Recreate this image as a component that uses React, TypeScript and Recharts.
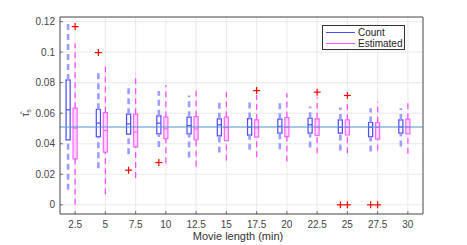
import { ComposedChart, XAxis, YAxis, CartesianGrid, ReferenceArea, ReferenceLine, ReferenceDot } from "recharts"

const lengths = [2.5, 5, 7.5, 10, 12.5, 15, 17.5, 20, 22.5, 25, 27.5, 30]
const xTicks = [2.5, 5, 7.5, 10, 12.5, 15, 17.5, 20, 22.5, 25, 27.5, 30]
const yTicks = [0, 0.02, 0.04, 0.06, 0.08, 0.1, 0.12]

// Count (blue)
const countLo = [0.0098, 0.024, 0.0332, 0.0378, 0.031, 0.0343, 0.036, 0.0364, 0.0375, 0.0356, 0.0349, 0.0382]
const countQ1 = [0.0426, 0.0447, 0.0463, 0.0465, 0.0465, 0.0452, 0.0456, 0.0469, 0.0469, 0.0469, 0.0447, 0.0469]
const countMed = [0.0622, 0.0535, 0.053, 0.0535, 0.0519, 0.0524, 0.0509, 0.0513, 0.0524, 0.0508, 0.0508, 0.051]
const countQ3 = [0.0818, 0.0626, 0.0594, 0.0583, 0.0574, 0.0563, 0.0565, 0.0561, 0.0567, 0.0556, 0.0539, 0.0556]
const countHi = [0.121, 0.0873, 0.0792, 0.0746, 0.0716, 0.0687, 0.0676, 0.067, 0.0644, 0.0637, 0.0633, 0.0633]
const countOutLen = [5, 7.5, 10, 25, 27.5]
const countOutVal = [0.0997, 0.0227, 0.0277, 0, 0]

// Estimated (magenta)
const estLo = [0, 0.007, 0.0175, 0.0273, 0.0251, 0.029, 0.0312, 0.0284, 0.0338, 0.0338, 0.0356, 0.0334]
const estQ1 = [0.0301, 0.0345, 0.038, 0.0434, 0.0425, 0.0421, 0.0443, 0.0447, 0.0454, 0.0458, 0.043, 0.0465]
const estMed = [0.0502, 0.0487, 0.0476, 0.0497, 0.0497, 0.0506, 0.0504, 0.0508, 0.0509, 0.0508, 0.0508, 0.051]
const estQ3 = [0.0633, 0.0604, 0.0594, 0.0574, 0.0578, 0.0574, 0.0556, 0.0572, 0.0563, 0.0556, 0.0539, 0.0561]
const estHi = [0.1058, 0.0906, 0.0858, 0.0783, 0.0759, 0.0738, 0.072, 0.0731, 0.0705, 0.0687, 0.0676, 0.0676]
const estOutLen = [2.5, 17.5, 22.5, 25, 25, 27.5]
const estOutVal = [0.1167, 0.0748, 0.0738, 0.0716, 0, 0]

const trueValue = 0.051

const X_MIN = 1.25
const X_MAX = 31.25
const Y_MIN = -0.006
const Y_MAX = 0.123
const COUNT_SHIFT = -0.58
const EST_SHIFT = 0
const HALF = 0.17

const FONT = "'Liberation Sans', Arial, sans-serif"
const AXIS = "#262626"

const Plus = (props: any) => {
  const { cx, cy } = props
  if (cx == null || cy == null) return null
  return (
    <g stroke="#ff0000" strokeWidth={1.2}>
      <line x1={cx - 3.5} y1={cy} x2={cx + 3.5} y2={cy} />
      <line x1={cx} y1={cy - 3.5} x2={cx} y2={cy + 3.5} />
    </g>
  )
}

const XTick = ({ x, y, payload }: any) => (
  <g>
    <line x1={x} y1={y} x2={x} y2={y - 3} stroke={AXIS} strokeWidth={0.6} />
    <text x={x} y={y + 14} textAnchor="middle" fontSize={10} fill="#444" fontFamily={FONT}>
      {String(payload.value)}
    </text>
  </g>
)

const YTick = ({ x, y, payload }: any) => (
  <g>
    <line x1={x} y1={y} x2={x + 3} y2={y} stroke={AXIS} strokeWidth={0.6} />
    <text x={x - 5} y={y + 3.5} textAnchor="end" fontSize={10} fill="#444" fontFamily={FONT}>
      {String(payload.value)}
    </text>
  </g>
)

const XLabel = () => (
  <text x={238} y={240} textAnchor="middle" fontSize={11} fill="#333" fontFamily={FONT}>
    Movie length (min)
  </text>
)

const YLabel = () => (
  <text x={29} y={113} transform="rotate(-90, 29, 113)" textAnchor="middle" fontSize={10} fill="#444" fontFamily={FONT}>
    {"\u03C4\u0302"}
    <tspan fontSize={7} dy={2}>s</tspan>
  </text>
)

function boxes(key: string, shift: number, lo: number[], q1: number[], med: number[], q3: number[], hi: number[],
  whisker: string, whiskerW: number, dash: string, edge: string, fill: string) {
  const out: any[] = []
  lengths.forEach((len, i) => {
    const x = len + shift
    out.push(
      <ReferenceLine key={`${key}-wh-${i}`} segment={[{ x, y: q3[i] }, { x, y: hi[i] }]} stroke={whisker} strokeWidth={whiskerW} strokeDasharray={dash} ifOverflow="visible" />,
      <ReferenceLine key={`${key}-wl-${i}`} segment={[{ x, y: lo[i] }, { x, y: q1[i] }]} stroke={whisker} strokeWidth={whiskerW} strokeDasharray={dash} ifOverflow="visible" />,
      <ReferenceArea key={`${key}-b-${i}`} x1={x - HALF} x2={x + HALF} y1={q1[i]} y2={q3[i]} fill={fill} fillOpacity={1} stroke={edge} strokeWidth={1.2} ifOverflow="visible" />,
      <ReferenceLine key={`${key}-m-${i}`} segment={[{ x: x - HALF, y: med[i] }, { x: x + HALF, y: med[i] }]} stroke={edge} strokeWidth={1.2} ifOverflow="visible" />
    )
  })
  return out
}

export default function App() {
  return (
    <div style={{ position: "absolute", left: 0, top: 0, width: 467, height: 245, background: "#fff" }}>
      <ComposedChart width={467} height={245} margin={{ top: 17, right: 44, bottom: 0, left: 0 }}>
        <CartesianGrid stroke="#e3e3e3" strokeWidth={0.8} />
        <XAxis
          type="number"
          dataKey="x"
          domain={[X_MIN, X_MAX]}
          ticks={xTicks}
          allowDataOverflow
          height={31}
          tickLine={false}
          tickSize={0}
          tickMargin={0}
          tick={<XTick />}
          stroke={AXIS}
          strokeWidth={0.8}
          label={<XLabel />}
        />
        <YAxis
          type="number"
          domain={[Y_MIN, Y_MAX]}
          ticks={yTicks}
          allowDataOverflow
          width={60}
          tickLine={false}
          tickSize={0}
          tickMargin={0}
          tick={<YTick />}
          stroke={AXIS}
          strokeWidth={0.8}
          label={<YLabel />}
        />
        <ReferenceLine x={X_MAX} stroke={AXIS} strokeWidth={0.8} />
        <ReferenceLine y={Y_MAX} stroke={AXIS} strokeWidth={0.8} />
        {boxes("c", COUNT_SHIFT, countLo, countQ1, countMed, countQ3, countHi, "#9d9dff", 2.6, "6 4", "#4a4aff", "none")}
        {boxes("e", EST_SHIFT, estLo, estQ1, estMed, estQ3, estHi, "#ff4dff", 1.3, "6 4", "#ff66ff", "#ffd6ff")}
        <ReferenceLine y={trueValue} stroke="#4f94cd" strokeWidth={1.1} />
        {countOutLen.map((len, i) => (
          <ReferenceDot key={`co-${i}`} x={len + COUNT_SHIFT} y={countOutVal[i]} r={3} shape={<Plus />} ifOverflow="visible" />
        ))}
        {estOutLen.map((len, i) => (
          <ReferenceDot key={`eo-${i}`} x={len + EST_SHIFT} y={estOutVal[i]} r={3} shape={<Plus />} ifOverflow="visible" />
        ))}
      </ComposedChart>
      <div
        style={{
          position: "absolute", left: 322, top: 25, width: 83, height: 25,
          border: "1px solid #333", background: "#fff", fontFamily: FONT, fontSize: 10, color: "#222",
          boxSizing: "border-box", lineHeight: "11px", paddingTop: 0.5,
        }}
      >
        <div style={{ display: "flex", alignItems: "center" }}>
          <span style={{ display: "inline-block", width: 29, height: 1, background: "#4a4aff", marginLeft: 3, marginRight: 3 }} />
          Count
        </div>
        <div style={{ display: "flex", alignItems: "center" }}>
          <span style={{ display: "inline-block", width: 29, height: 1, background: "#ff4dff", marginLeft: 3, marginRight: 3 }} />
          Estimated
        </div>
      </div>
    </div>
  )
}
